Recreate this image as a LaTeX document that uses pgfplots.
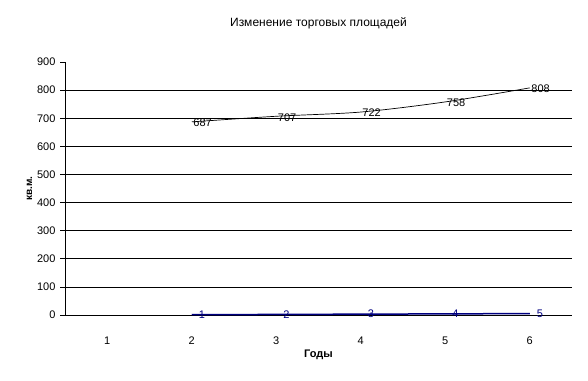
\documentclass[border=0pt]{standalone}
\usepackage{pgfplots}
\pgfplotsset{compat=1.18}
\usepackage{fontspec}
\setmainfont{Liberation Sans}
\definecolor{navyb}{RGB}{0,0,128}
\begin{document}
\begin{tikzpicture}[x=1pt,y=1pt]
\path[use as bounding box] (0,0) rectangle (588,380);
\begin{axis}[
  at={(65pt,65pt)}, anchor=origin,
  scale only axis, width=507pt, height=253pt,
  xmin=0.5, xmax=6.5, ymin=0, ymax=900,
  axis x line*=bottom, axis y line*=left,
  axis line style={-, line width=0.8pt},
  xtick={1,2,3,4,5,6},
  xticklabels={1,2,3,4,5,6},
  x tick label style={yshift=-13pt},
  xtick style={draw=none},
  extra x ticks={0.5,1.5,2.5,3.5,4.5,5.5,6.5},
  extra x tick labels={},
  extra x tick style={major tick length=5pt, tick style={draw=black, line width=0.6pt}, tick align=outside, xticklabel style={yshift=0pt}},
  ytick={0,100,...,900},
  tick align=outside,
  major tick length=5pt,
  ytick style={line width=0.6pt, draw=black},
  ymajorgrids=false,
  yticklabel style={font=\fontsize{11}{12}\selectfont, xshift=-1pt},
  xticklabel style={font=\fontsize{11}{12}\selectfont},
  /pgf/number format/assume math mode=true,
  xlabel={\textbf{Годы}},
  xlabel style={font=\fontsize{11}{13}\selectfont, yshift=11pt},
  ylabel={\textbf{кв.м.}},
  ylabel style={font=\fontsize{10}{11}\selectfont, yshift=-2pt},
  title={Изменение торговых площадей},
  title style={font=\fontsize{12}{14}\selectfont, yshift=23pt},
  clip=false,
]
% horizontal grid lines 100..800
\addplot[black, line width=0.6pt, forget plot] coordinates {(0.5,100) (6.5,100)};
\addplot[black, line width=0.6pt, forget plot] coordinates {(0.5,200) (6.5,200)};
\addplot[black, line width=0.6pt, forget plot] coordinates {(0.5,300) (6.5,300)};
\addplot[black, line width=0.6pt, forget plot] coordinates {(0.5,400) (6.5,400)};
\addplot[black, line width=0.6pt, forget plot] coordinates {(0.5,500) (6.5,500)};
\addplot[black, line width=0.6pt, forget plot] coordinates {(0.5,600) (6.5,600)};
\addplot[black, line width=0.6pt, forget plot] coordinates {(0.5,700) (6.5,700)};
\addplot[black, line width=0.6pt, forget plot] coordinates {(0.5,800) (6.5,800)};
% series 1
\addplot[black, line width=0.7pt, smooth, mark=none,
  nodes near coords, every node near coord/.append style={font=\fontsize{11}{12}\selectfont, anchor=west, xshift=-2pt, yshift=-1pt, text=black}]
  coordinates {(2,687) (3,707) (4,722) (5,758) (6,808)};
% series 2
\addplot[navyb, line width=1.5pt, mark=none,
  nodes near coords, every node near coord/.append style={font=\fontsize{11}{12}\selectfont, anchor=west, xshift=3pt, yshift=0pt, text=navyb}]
  coordinates {(2,1) (3,2) (4,3) (5,4) (6,5)};
\end{axis}
\end{tikzpicture}
\end{document}
